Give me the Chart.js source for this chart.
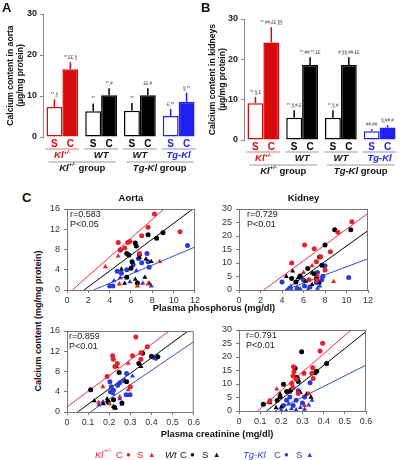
<!DOCTYPE html>
<html>
<head>
<meta charset="utf-8">
<script src="https://cdn.jsdelivr.net/npm/chart.js@4.4.1/dist/chart.umd.min.js"></script>
<style>
  body { margin: 0; background: #fff; }
  #fig { position: relative; width: 400px; height: 460px; overflow: hidden; font-family: "Liberation Sans", Arial, sans-serif; color: #111; }
  #fig canvas { position: absolute; }
  .t { position: absolute; white-space: nowrap; line-height: 1; }
  .b { font-weight: bold; }
  .c { transform: translate(-50%, -50%); }
  .r { transform: translate(-50%, -50%) rotate(-90deg); }
</style>
</head>
<body>
<div id="fig">
  <canvas id="barA"></canvas>
  <canvas id="barB"></canvas>
  <canvas id="aortaP"></canvas>
  <canvas id="kidP"></canvas>
  <canvas id="aortaC"></canvas>
  <canvas id="kidC"></canvas>

  <div class="t b" style="left:2px;top:1px;font-size:13px">A</div>
  <div class="t b" style="left:201px;top:1px;font-size:13px">B</div>
  <div class="t b" style="left:22px;top:191px;font-size:13px">C</div>

  <div class="t b r" style="left:38px;top:321px;font-size:9px">Calcium content (mg/mg protein)</div>
  <div class="t b c" style="left:214px;top:309px;font-size:9.3px">Plasma phosphorus (mg/dl)</div>
  <div class="t b c" style="left:217px;top:435px;font-size:9.3px">Plasma creatinine (mg/dl)</div>

  <!-- legend -->
  <div class="t" style="left:95px;top:450px;font-size:9.5px;color:#e82030;font-style:italic">Kl</div>
  <div class="t" style="left:104px;top:447px;font-size:6px;color:#e82030;font-style:italic">+/-</div>
  <div class="t" style="left:116px;top:450px;font-size:9.5px;color:#e82030">C</div>
  <div class="t" style="left:126px;top:451px;font-size:8px;color:#e82030">&#9679;</div>
  <div class="t" style="left:137px;top:450px;font-size:9.5px;color:#e82030">S</div>
  <div class="t" style="left:148px;top:451px;font-size:7.5px;color:#e82030">&#9650;</div>
  <div class="t" style="left:165px;top:450px;font-size:9.5px;color:#111;font-style:italic">Wt</div>
  <div class="t" style="left:180px;top:450px;font-size:9.5px;color:#111">C</div>
  <div class="t" style="left:190px;top:451px;font-size:8px;color:#111">&#9679;</div>
  <div class="t" style="left:202px;top:450px;font-size:9.5px;color:#111">S</div>
  <div class="t" style="left:213px;top:451px;font-size:7.5px;color:#111">&#9650;</div>
  <div class="t" style="left:243px;top:450px;font-size:9.5px;color:#3838d8;font-style:italic">Tg-Kl</div>
  <div class="t" style="left:274px;top:450px;font-size:9.5px;color:#3838d8">C</div>
  <div class="t" style="left:284px;top:451px;font-size:8px;color:#3838d8">&#9679;</div>
  <div class="t" style="left:296px;top:450px;font-size:9.5px;color:#3838d8">S</div>
  <div class="t" style="left:306px;top:451px;font-size:7.5px;color:#3838d8">&#9650;</div>
</div>

<script>
// ---- bar data (panels A, B) ----
const groupNames = ["Kl+/-", "WT", "WT", "Tg-Kl"];
const barTicks = [0, 10, 20, 30];
const aortaS = [7.3, 6.3, 6.4, 5.1];
const aortaC = [16.5, 10.2, 10.2, 8.6];
const aortaSErr = [1.9, 1.9, 1.9, 1.7];
const aortaCErr = [1.8, 1.7, 1.7, 2.2];
const aortaSigS = ["**,§", "**", "**", "£,**"];
const aortaSigC = ["**,££,§", "**,#", "££,#", "§,**"];
const kidneyS = [9.1, 5.5, 5.5, 2.2];
const kidneyC = [24.2, 18.6, 18.6, 3.1];
const kidneySErr = [1.6, 1.9, 1.9, 0.5];
const kidneyCErr = [3.8, 1.9, 1.9, 0.6];
const kidneySigS = ["**,§,£", "**,§,#,£", "**,§,#", "##,##"];
const kidneySigC = ["**,##,££,§§", "**,##,**,££", "#,§§,##,££", "§,##,#"];

// ---- scatter data (panel C): [x, y] ----
// aorta vs plasma phosphorus
const aortaPKlC = [[8.2,15.0],[7.6,12.4],[7.0,10.7],[10.6,11.5],[4.8,9.4],[5.7,9.4],[5.9,9.6],[5.0,7.9],[5.4,8.3],[6.8,7.2]];
const aortaPKlS = [[4.8,6.7],[8.7,5.6],[3.6,4.6],[4.9,1.2],[7.6,1.2],[6.6,0.8]];
const aortaPWtC = [[9.0,11.3],[7.6,10.9],[8.4,10.2],[6.4,9.3],[6.5,8.7],[5.0,7.9],[5.6,7.2],[5.8,6.9],[6.1,5.6],[6.8,7.0],[6.0,4.3],[6.6,1.4],[5.6,2.5]];
const aortaPWtS = [[7.9,5.6],[6.8,6.4],[7.4,6.1],[6.4,2.1],[7.3,2.5],[5.4,1.3],[7.7,1.3],[5.1,4.1]];
const aortaPTgC = [[11.3,8.8],[7.5,7.2],[6.7,6.2],[7.0,5.4],[7.6,5.6],[6.2,5.0],[4.7,3.7],[5.1,3.3],[7.7,4.5],[5.6,4.0],[4.3,0.8],[4.0,0.8]];
const aortaPTgS = [[5.0,2.4],[5.9,1.6],[7.1,1.3],[7.9,0.8],[6.5,3.8],[4.4,1.8]];
const aortaPFitKl = [[0.5,0],[9.1,16]];
const aortaPFitWt = [[1.6,0],[11.8,16]];
const aortaPFitTg = [[2.5,0],[12,8.5]];

// kidney vs plasma phosphorus
const kidPKlC = [[10.5,25.3],[9.2,21.4],[7.0,15.3],[6.1,16.7],[4.9,10.0],[8.5,14.2],[7.6,12.3],[7.2,10.5],[8.0,7.4],[6.5,3.8],[7.2,3.6]];
const kidPKlS = [[6.8,9.0],[8.8,3.1],[7.3,5.5],[6.0,6.5]];
const kidPWtC = [[8.9,22.3],[10.4,22.3],[8.0,16.7],[7.5,12.2],[6.4,8.0],[5.7,5.2],[4.9,4.3],[7.0,6.0],[7.2,4.3],[5.3,3.0],[7.7,9.2]];
const kidPWtS = [[4.4,5.0],[5.0,7.0],[6.8,6.3],[6.2,3.2],[7.5,2.7],[6.8,2.0],[5.5,4.5]];
const kidPTgC = [[10.2,4.6],[8.0,9.0],[7.3,6.5],[7.8,5.1],[6.1,1.5],[6.6,1.1],[5.4,0.6],[4.0,3.0],[7.2,2.8],[7.7,3.8],[6.0,3.7]];
const kidPTgS = [[4.6,0.6],[4.9,0.1],[5.7,0.4],[6.4,0.1],[7.3,0.6],[4.8,1.2],[7.5,1.5]];
const kidPFitKl = [[2.3,0],[12,28.4]];
const kidPFitWt = [[4.3,0],[12,22]];
const kidPFitTg = [[4.3,0],[12,11.6]];

// aorta vs plasma creatinine
const aortaCKlC = [[0.326,14.8],[0.38,12.9],[0.31,11.1],[0.35,11.7],[0.216,11.1],[0.219,10.4],[0.238,9.6],[0.227,9.0],[0.35,10.4],[0.19,7.0],[0.30,5.0]];
const aortaCKlS = [[0.29,9.6],[0.17,5.0],[0.20,1.6],[0.29,4.4],[0.25,3.0],[0.15,1.9]];
const aortaCWtC = [[0.112,4.4],[0.247,7.8],[0.282,6.0],[0.358,11.6],[0.34,9.6],[0.40,11.0],[0.43,10.9],[0.22,2.4],[0.195,2.0],[0.26,1.8],[0.225,0.9]];
const aortaCWtS = [[0.129,2.2],[0.234,9.0],[0.172,1.6],[0.22,1.1],[0.35,9.0],[0.19,2.6],[0.23,0.8]];
const aortaCTgC = [[0.203,6.0],[0.25,5.8],[0.27,6.2],[0.24,5.3],[0.282,7.6],[0.206,4.0],[0.22,4.3],[0.298,3.4],[0.41,10.8],[0.42,10.6],[0.28,3.4],[0.21,5.0]];
const aortaCTgS = [[0.151,1.4],[0.17,2.0],[0.22,3.6],[0.31,7.1],[0.25,2.6],[0.26,1.5]];
const aortaCFitKl = [[0,1.0],[0.5,16.5]];
const aortaCFitWt = [[0.05,0],[0.58,16.2]];
const aortaCFitTg = [[0.11,0],[0.6,13.9]];

// kidney vs plasma creatinine
const kidCKlC = [[0.395,25.1],[0.383,22.2],[0.348,16.0],[0.344,14.0],[0.35,12.0],[0.257,16.4],[0.26,14.5],[0.255,13.0],[0.307,14.0],[0.249,10.3],[0.27,11.8],[0.255,8.6],[0.146,3.8],[0.28,6.5]];
const kidCKlS = [[0.178,8.1],[0.25,10.0],[0.33,6.5],[0.31,2.0],[0.14,3.2]];
const kidCWtC = [[0.296,21.9],[0.414,17.6],[0.367,14.7],[0.359,14.2],[0.265,15.8],[0.28,10.9],[0.21,9.9],[0.245,7.8],[0.225,7.2],[0.194,5.3],[0.115,2.5],[0.18,3.9],[0.27,12.5]];
const kidCWtS = [[0.146,3.0],[0.194,6.3],[0.24,7.0],[0.29,6.8],[0.32,6.3],[0.34,5.1],[0.2,1.5],[0.175,1.2]];
const kidCTgC = [[0.277,12.1],[0.336,10.5],[0.28,7.5],[0.24,5.2],[0.225,4.0],[0.27,4.0],[0.31,5.2],[0.21,2.0],[0.256,2.0],[0.30,3.0]];
const kidCTgS = [[0.2,0.3],[0.223,0.1],[0.248,0.8],[0.27,0.4],[0.29,1.3],[0.33,2.2],[0.345,4.0],[0.235,2.6],[0.31,0.6]];
const kidCFitKl = [[0.087,0],[0.53,30]];
const kidCFitWt = [[0.13,0],[0.6,29.4]];
const kidCFitTg = [[0.17,0],[0.6,17]];

// ---- styles ----
const FONT = '"Liberation Sans", Arial, sans-serif';
const barColors = ["#d60c0c", "#000000", "#000000", "#1f1ff0"];
const underColors = ["#e07878", "#999999", "#999999", "#8888e8"];
const pointColors = ["#e3202b", "#e3202b", "#000000", "#000000", "#2a3ad8", "#2a3ad8"];
const lineColors = ["#e83048", "#000000", "#3a4ad0"];

Chart.defaults.font.family = FONT;
Chart.defaults.color = "#222";
Chart.defaults.animation = false;

function place(id, pos) {
  const cv = document.getElementById(id);
  cv.width = pos[2];
  cv.height = pos[3];
  cv.style.left = pos[0] + "px";
  cv.style.top = pos[1] + "px";
  return cv;
}

// text made of pieces: {t, color, italic, sup}
function richText(ctx, parts, cx, cy, size) {
  const fonts = parts.map(p => (p.italic ? "italic " : "") + "bold " + (p.sup ? size * 0.62 : size) + "px " + FONT);
  let w = 0;
  parts.forEach((p, k) => { ctx.font = fonts[k]; w += ctx.measureText(p.t).width; });
  let x = cx - w / 2;
  ctx.textAlign = "left";
  ctx.textBaseline = "middle";
  parts.forEach((p, k) => {
    ctx.font = fonts[k];
    ctx.fillStyle = p.color;
    ctx.fillText(p.t, x, p.sup ? cy - size * 0.38 : cy);
    x += ctx.measureText(p.t).width;
  });
}

const pairLabels = [
  [{t: "Kl", color: "#d60c0c", italic: true}, {t: "+/-", color: "#d60c0c", italic: true, sup: true}],
  [{t: "WT", color: "#111", italic: true}],
  [{t: "WT", color: "#111", italic: true}],
  [{t: "Tg-Kl", color: "#1f1ff0", italic: true}]
];
const groupLabels = [
  [{t: "Kl", color: "#111", italic: true}, {t: "+/-", color: "#111", italic: true, sup: true}, {t: " group", color: "#111"}],
  [{t: "Tg-Kl", color: "#111", italic: true}, {t: " group", color: "#111"}]
];
const barLetters = ["S", "C"];

const barDecor = {
  id: "barDecor",
  afterDatasetsDraw(chart) {
    const ctx = chart.ctx;
    const ys = chart.scales.y;
    const bottom = chart.chartArea.bottom;
    ctx.save();
    chart.data.datasets.forEach((ds, d) => {
      chart.getDatasetMeta(d).data.forEach((bar, i) => {
        const yTop = ys.getPixelForValue(ds.data[i] + ds.err[i]);
        ctx.strokeStyle = barColors[i];
        ctx.lineWidth = 1.5;
        ctx.beginPath();
        ctx.moveTo(bar.x, bar.y);
        ctx.lineTo(bar.x, yTop);
        ctx.stroke();
        ctx.fillStyle = "#555";
        ctx.font = "4.5px " + FONT;
        ctx.textAlign = "center";
        ctx.textBaseline = "alphabetic";
        ctx.fillText(ds.sig[i], bar.x, yTop - 3);
        ctx.font = "bold 10px " + FONT;
        ctx.fillStyle = barColors[i];
        ctx.textBaseline = "middle";
        ctx.fillText(barLetters[d], bar.x, bottom + 7);
      });
    });
    const s = chart.getDatasetMeta(0).data;
    const c = chart.getDatasetMeta(1).data;
    s.forEach((bar, i) => {
      ctx.strokeStyle = underColors[i];
      ctx.lineWidth = 1.2;
      ctx.beginPath();
      ctx.moveTo(s[i].x - 9, bottom + 12);
      ctx.lineTo(c[i].x + 9, bottom + 12);
      ctx.stroke();
      richText(ctx, pairLabels[i], (s[i].x + c[i].x) / 2, bottom + 18.5, 9.5);
    });
    [0, 1].forEach(g => {
      const x0 = s[g * 2].x - 6, x1 = c[g * 2 + 1].x + 7;
      ctx.strokeStyle = "#999";
      ctx.lineWidth = 1.2;
      ctx.beginPath();
      ctx.moveTo(x0, bottom + 25);
      ctx.lineTo(x1, bottom + 25);
      ctx.stroke();
      richText(ctx, groupLabels[g], (x0 + x1) / 2, bottom + 31, 9.5);
    });
    ctx.restore();
  }
};

function barChart(id, pos, area, sVals, cVals, sErr, cErr, sSig, cSig, yTitle, titlePad) {
  const cv = place(id, pos);
  const common = {borderWidth: 1.5, borderSkipped: false, categoryPercentage: 0.82, barPercentage: 1, borderColor: barColors};
  return new Chart(cv, {
    type: "bar",
    data: {
      labels: groupNames,
      datasets: [
        Object.assign({data: sVals, err: sErr, sig: sSig, backgroundColor: "#fff"}, common),
        Object.assign({data: cVals, err: cErr, sig: cSig, backgroundColor: barColors}, common)
      ]
    },
    options: {
      responsive: false,
      layout: {padding: {left: 0, top: area[1] - pos[1], right: pos[0] + pos[2] - area[2], bottom: pos[1] + pos[3] - area[3]}},
      plugins: {legend: {display: false}, tooltip: {enabled: false}},
      scales: {
        x: {display: false},
        y: {
          min: barTicks[0],
          max: barTicks[barTicks.length - 1],
          afterBuildTicks: s => { s.ticks = barTicks.map(v => ({value: v})); },
          ticks: {font: {size: 9, weight: "bold"}, color: "#222", padding: 3},
          grid: {drawOnChartArea: false, tickLength: 3, color: "#888"},
          border: {color: "#888"},
          title: {display: true, text: yTitle, font: {size: 8.6, weight: "bold"}, color: "#111", padding: {top: titlePad, bottom: 0}},
          afterFit: s => { s.width = area[0] - pos[0]; }
        }
      }
    },
    plugins: [barDecor]
  });
}

barChart("barA", [0, 0, 200, 180], [43, 14, 198, 137], aortaS, aortaC, aortaSErr, aortaCErr,
  aortaSigS, aortaSigC, ["Calcium content in aorta", "(\u00b5g/mg protein)"], 5);
barChart("barB", [200, 0, 200, 180], [244, 19, 399, 140], kidneyS, kidneyC, kidneySErr, kidneyCErr,
  kidneySigS, kidneySigC, ["Calcium content in kidneys", "(\u00b5g/mg protein)"], 7);

// ---- scatter panels ----
const frame = {
  id: "frame",
  afterDraw(chart, args, o) {
    const ctx = chart.ctx;
    const {left, top, right, bottom} = chart.chartArea;
    ctx.save();
    ctx.strokeStyle = "#777";
    ctx.lineWidth = 1;
    ctx.strokeRect(left + 0.5, top + 0.5, right - left - 1, bottom - top);
    ctx.fillStyle = "#111";
    ctx.font = "bold 9.5px " + FONT;
    ctx.textAlign = "center";
    ctx.textBaseline = "middle";
    if (o.title) ctx.fillText(o.title, (left + right) / 2, top - 11);
    ctx.font = "9px " + FONT;
    ctx.fillStyle = "#222";
    ctx.textAlign = "left";
    ctx.fillText(o.stat[0], left + o.dx, top + 6);
    ctx.fillText(o.stat[1], left + o.dx, top + 16);
    ctx.restore();
  }
};

function scatterChart(id, pos, area, xMax, xStep, yMax, yStep, series, fits, stat, title, dx) {
  const cv = place(id, pos);
  const datasets = series.map((d, k) => ({
    data: d.map(p => ({x: p[0], y: p[1]})),
    pointStyle: k % 2 ? "triangle" : "circle",
    pointRadius: k % 2 ? 2.9 : 2.5,
    backgroundColor: pointColors[k],
    borderColor: pointColors[k],
    borderWidth: 0
  }));
  fits.forEach((f, k) => datasets.push({
    data: f.map(p => ({x: p[0], y: p[1]})),
    showLine: true,
    pointRadius: 0,
    borderWidth: 1,
    borderColor: lineColors[k]
  }));
  const tickFont = {size: 9};
  return new Chart(cv, {
    type: "scatter",
    data: {datasets},
    options: {
      responsive: false,
      layout: {padding: {left: 0, top: area[1] - pos[1], right: pos[0] + pos[2] - area[2], bottom: 0}},
      plugins: {legend: {display: false}, tooltip: {enabled: false}, frame: {title, stat, dx}},
      scales: {
        x: {
          type: "linear", min: 0, max: xMax,
          ticks: {stepSize: xStep, font: tickFont, color: "#333", padding: 2, maxRotation: 0, autoSkip: false},
          grid: {drawOnChartArea: false, tickLength: 3, color: "#777"},
          border: {color: "#777"},
          afterFit: s => { s.height = pos[1] + pos[3] - area[3]; }
        },
        y: {
          min: 0, max: yMax,
          ticks: {stepSize: yStep, font: tickFont, color: "#333", padding: 4, autoSkip: false},
          grid: {drawOnChartArea: false, tickLength: 3, color: "#777"},
          border: {color: "#777"},
          afterFit: s => { s.width = area[0] - pos[0]; }
        }
      }
    },
    plugins: [frame]
  });
}

scatterChart("aortaP", [44, 188, 158, 116], [67, 209, 195, 290], 12, 2, 16, 4,
  [aortaPKlC, aortaPKlS, aortaPWtC, aortaPWtS, aortaPTgC, aortaPTgS],
  [aortaPFitKl, aortaPFitWt, aortaPFitTg], ["r=0.583", "P<0.05"], "Aorta", 3);
scatterChart("kidP", [214, 188, 171, 116], [239, 209, 368, 290], 12, 2, 30, 5,
  [kidPKlC, kidPKlS, kidPWtC, kidPWtS, kidPTgC, kidPTgS],
  [kidPFitKl, kidPFitWt, kidPFitTg], ["r=0.729", "P<0.01"], "Kidney", 8);
scatterChart("aortaC", [44, 318, 158, 112], [67, 331, 194, 412], 0.6, 0.1, 16, 4,
  [aortaCKlC, aortaCKlS, aortaCWtC, aortaCWtS, aortaCTgC, aortaCTgS],
  [aortaCFitKl, aortaCFitWt, aortaCFitTg], ["r=0.859", "P<0.01"], "", 2);
scatterChart("kidC", [214, 318, 171, 112], [239, 330, 366, 411], 0.6, 0.1, 30, 5,
  [kidCKlC, kidCKlS, kidCWtC, kidCWtS, kidCTgC, kidCTgS],
  [kidCFitKl, kidCFitWt, kidCFitTg], ["r=0.791", "P<0.01"], "", 7);
</script>
</body>
</html>
